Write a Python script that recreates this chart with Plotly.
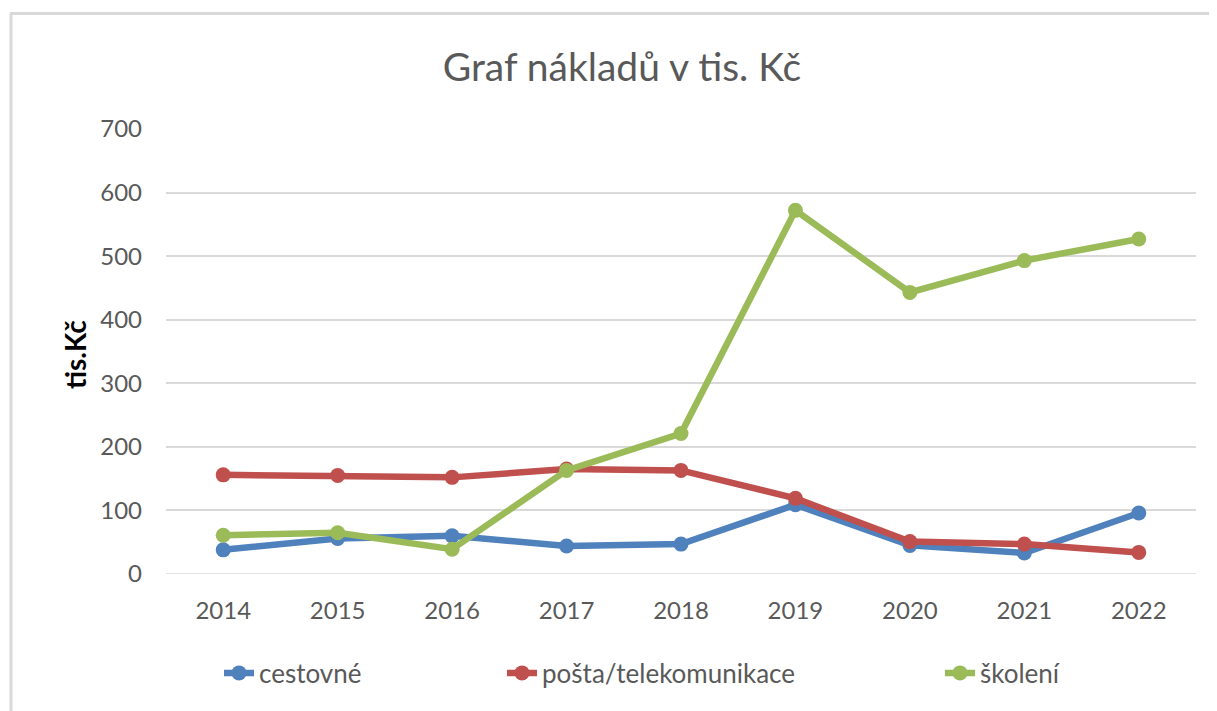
import plotly.graph_objects as go

years = ["2014", "2015", "2016", "2017", "2018", "2019", "2020", "2021", "2022"]
cestovne = [38, 56, 60, 44, 47, 109, 45, 33, 96]
posta = [156, 155, 152, 165, 163, 119, 51, 47, 34]
skoleni = [61, 65, 39, 163, 221, 572, 443, 493, 527]

names = ["cestovné", "pošta/telekomunikace", "školení"]
colors = ["#4F81BD", "#C0504D", "#9BBB59"]
series = [cestovne, posta, skoleni]
legends = ["legend", "legend2", "legend3"]

FONT = "Lato, Liberation Sans, sans-serif"
GRAY = "#595959"

fig = go.Figure()
for name, col, vals, lg in zip(names, colors, series, legends):
    fig.add_trace(go.Scatter(
        x=years, y=vals, name=name, mode="lines+markers",
        line=dict(color=col, width=6.5),
        marker=dict(color=col, size=15),
        legend=lg,
    ))

# page has an 8px body margin, so figure coords = page coords - 8
OFF = 8
W, H = 1217, 711
L, R, T, B = 166 - OFF, W - (1196 - OFF), 129 - OFF, H - (574 - OFF)
pw = W - L - R
ph = H - T - B


def px_x(x):
    return (x - 166) / pw


def px_y(y):
    return (574 - y) / ph


leg_y = px_y(673)
legend_common = dict(
    orientation="h", yanchor="middle", xanchor="left", y=leg_y,
    font=dict(family=FONT, size=26, color=GRAY),
    bgcolor="rgba(0,0,0,0)",
)

fig.update_layout(
    width=W, height=H,
    margin=dict(l=L, r=R, t=T, b=B, autoexpand=False),
    paper_bgcolor="white", plot_bgcolor="white",
    title=dict(text="Graf nákladů v tis. Kč", x=(622 - OFF) / W, xanchor="center",
               y=1 - (67 - OFF) / H, yanchor="middle",
               font=dict(family=FONT, size=39, color=GRAY)),
    showlegend=True,
    legend=dict(x=px_x(219), **legend_common),
    legend2=dict(x=px_x(502), **legend_common),
    legend3=dict(x=px_x(940), **legend_common),
    xaxis=dict(type="category", range=[-0.5, 8.5], showgrid=False,
               showline=False, zeroline=False, ticks="",
               tickfont=dict(family=FONT, size=24, color=GRAY),
               ticklabelstandoff=20),
    yaxis=dict(range=[0, 700], dtick=100, tick0=0, showgrid=True,
               gridcolor="#D9D9D9", gridwidth=1.5, zeroline=False,
               showline=False, ticks="",
               tickfont=dict(family=FONT, size=24, color=GRAY),
               ticklabelstandoff=23),
    shapes=[
        dict(type="line", xref="paper", yref="paper",
             x0=px_x(10), x1=px_x(1230), y0=px_y(13.5), y1=px_y(13.5),
             line=dict(color="#D9D9D9", width=3), layer="below"),
        dict(type="line", xref="paper", yref="paper",
             x0=px_x(11), x1=px_x(11), y0=px_y(13.5), y1=px_y(730),
             line=dict(color="#D9D9D9", width=3), layer="below"),
        dict(type="line", xref="paper", yref="y", x0=0, x1=1, y0=0, y1=0,
             line=dict(color="#D9D9D9", width=1.5), layer="below"),
    ],
    annotations=[dict(text="<b>tis.Kč</b>", textangle=-90, xref="paper", yref="paper",
                      x=px_x(75), y=px_y(355), xanchor="center", yanchor="middle",
                      showarrow=False,
                      font=dict(family=FONT, size=28, color="#000000"))],
)

fig.write_html("out.html")
